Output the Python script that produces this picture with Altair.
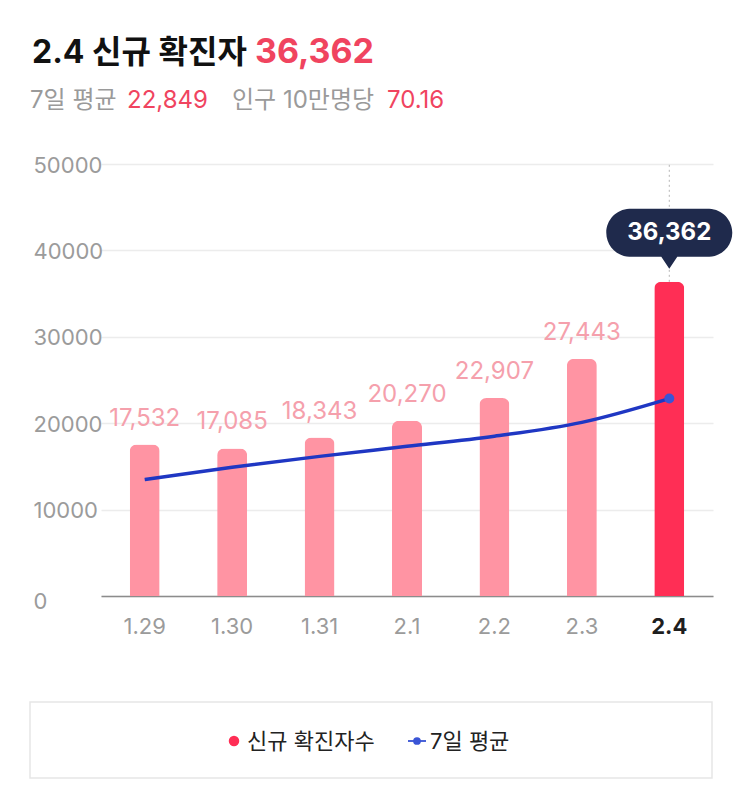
import altair as alt
import pandas as pd

# Daily new cases and 7-day rolling average
dates = ["1.29", "1.30", "1.31", "2.1", "2.2", "2.3", "2.4"]
cases = [17532, 17085, 18343, 20270, 22907, 27443, 36362]
avg7 = [13470, 14890, 16160, 17320, 18500, 20100, 22849]
y_ticks = [0, 10000, 20000, 30000, 40000, 50000]

headline = "2.4 신규 확진자"
avg_label = "7일 평균"
per100k_label = "인구 10만명당"
per100k_value = "70.16"
legend_cases = "신규 확진자수"
legend_avg = "7일 평균"

latest = dates[-1]

PINK = "#FF94A3"
RED = "#FF2E55"
LABEL_PINK = "#F5A0AC"
TITLE_RED = "#F0445F"
BLUE = "#1F37C3"
DOT_BLUE = "#3A55D6"
NAVY = "#1F2A4C"
FONT = "Inter, 'Noto Sans CJK KR', sans-serif"

df = pd.DataFrame({"date": dates, "cases": cases, "avg": avg7})

x_enc = alt.X(
    "date:N",
    sort=dates,
    scale=alt.Scale(paddingInner=0, paddingOuter=0),
    axis=alt.Axis(
        title=None,
        ticks=False,
        domainColor="#8C8C8C",
        domainWidth=1.5,
        labelAngle=0,
        labelAlign="center",
        labelFont=FONT,
        labelFontSize=22,
        labelPadding=30,
        labelColor={"expr": f"datum.value == '{latest}' ? '#1E1E1E' : '#9B9B9B'"},
        labelFontWeight={"expr": f"datum.value == '{latest}' ? 'bold' : 'normal'"},
    ),
)
y_scale = alt.Scale(domain=[0, 50000], nice=False)
y_enc = alt.Y(
    "cases:Q",
    scale=y_scale,
    axis=alt.Axis(
        title=None,
        values=y_ticks,
        format="d",
        domain=False,
        ticks=False,
        tickSize=0,
        labelAlign="left",
        labelPadding=68,
        labelFont=FONT,
        labelFontSize=22,
        labelColor="#9B9B9B",
        labelOffset={"expr": "datum.value == 0 ? 5 : 1"},
        gridColor="#ECECEC",
        gridWidth=1.5,
    ),
)

base = alt.Chart(df)

guide = base.transform_filter(alt.datum.date == latest).mark_rule(
    color="#B5B5B5", strokeDash=[2, 3], strokeWidth=1
).encode(
    x=alt.X("date:N", sort=dates),
    y=alt.Y("cases:Q", scale=y_scale),
    y2=alt.datum(y_ticks[-1]),
)

bars = base.mark_bar(size=30, cornerRadiusTopLeft=7, cornerRadiusTopRight=7).encode(
    x=x_enc,
    y=y_enc,
    color=alt.condition(alt.datum.date == latest, alt.value(RED), alt.value(PINK)),
)

labels = base.transform_filter(alt.datum.date != latest).mark_text(
    dy=-26, baseline="middle", fontSize=24, font=FONT, color=LABEL_PINK
).encode(
    x=alt.X("date:N", sort=dates),
    y=alt.Y("cases:Q", scale=y_scale),
    text=alt.Text("cases:Q", format=","),
)

line = base.mark_line(interpolate="monotone", color=BLUE, strokeWidth=3.5).encode(
    x=alt.X("date:N", sort=dates),
    y=alt.Y("avg:Q", scale=y_scale),
)

last_dot = base.transform_filter(alt.datum.date == latest).mark_circle(
    size=100, color=DOT_BLUE, opacity=1
).encode(x=alt.X("date:N", sort=dates), y=alt.Y("avg:Q", scale=y_scale))

# Callout bubble above the latest bar (pill with a pointer, drawn in pixel units)
bubble_path = (
    "M -40 -73 L 40 -73 A 24 24 0 0 1 63 -49 A 24 24 0 0 1 40 -25 "
    "L 8 -25 L 0 -13 L -8 -25 L -40 -25 A 24 24 0 0 1 -63 -49 "
    "A 24 24 0 0 1 -40 -73 Z"
)
bubble = base.transform_filter(alt.datum.date == latest).mark_point(
    shape=bubble_path, size=4, filled=True, fill=NAVY, opacity=1, strokeWidth=0
).encode(x=alt.X("date:N", sort=dates), y=alt.Y("cases:Q", scale=y_scale))

bubble_text = base.transform_filter(alt.datum.date == latest).mark_text(
    dy=-49, baseline="middle", fontSize=24, fontWeight="bold", font=FONT, color="white"
).encode(
    x=alt.X("date:N", sort=dates),
    y=alt.Y("cases:Q", scale=y_scale),
    text=alt.Text("cases:Q", format=","),
)


def label(txt, x, y, size, color, weight="normal", baseline="alphabetic"):
    return alt.Chart(pd.DataFrame({"t": [txt]})).mark_text(
        align="left", baseline=baseline, fontSize=size, fontWeight=weight,
        font=FONT, color=color,
    ).encode(x=alt.value(x), y=alt.value(y), text="t:N")


header = [
    label(headline, -69, -101, 32, "#111111", "bold"),
    label(f"{cases[-1]:,}", 154, -101, 34, TITLE_RED, "bold"),
    label(avg_label, -71, -56, 24, "#9A9A9A"),
    label(f"{avg7[-1]:,}", 26, -56, 24, TITLE_RED),
    label(per100k_label, 131, -56, 24, "#9A9A9A"),
    label(per100k_value, 286, -56, 24, TITLE_RED),
]

legend_box = alt.Chart(pd.DataFrame({"k": [0]})).mark_rect(
    fill="white", stroke="#E6E6E6", strokeWidth=1.5
).encode(x=alt.value(-71), x2=alt.value(611), y=alt.value(538), y2=alt.value(614))

legend_dot = alt.Chart(pd.DataFrame({"k": [0]})).mark_circle(
    size=110, color=RED, opacity=1
).encode(x=alt.value(133), y=alt.value(577))
legend_line = alt.Chart(pd.DataFrame({"k": [0]})).mark_rule(
    color="#4A63D8", strokeWidth=2
).encode(x=alt.value(307), x2=alt.value(325), y=alt.value(577))
legend_line_dot = alt.Chart(pd.DataFrame({"k": [0]})).mark_circle(
    size=60, color="#3A55D6", opacity=1
).encode(x=alt.value(316), y=alt.value(577))

legend = [
    legend_box,
    legend_dot,
    label(legend_cases, 146, 578, 22, "#222222", baseline="middle"),
    legend_line,
    legend_line_dot,
    label(legend_avg, 329, 578, 22, "#222222", baseline="middle"),
]

chart = alt.layer(
    guide, bars, labels, line, last_dot, bubble, bubble_text, *header, *legend
).properties(
    width=612,
    height=432,
    autosize=alt.AutoSizeParams(type="none"),
    padding={"left": 101, "top": 164, "right": 30, "bottom": 214},
    background="white",
).configure_view(stroke=None)

chart.save("out.html", embed_options={"renderer": "svg", "actions": False})
